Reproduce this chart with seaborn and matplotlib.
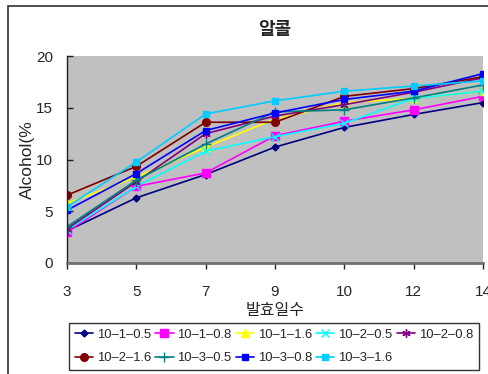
import matplotlib
matplotlib.use("Agg")
import matplotlib.pyplot as plt
import seaborn as sns
import pandas as pd
from matplotlib.patches import Rectangle

days = ["3", "5", "7", "9", "10", "12", "14"]
series_names = ["10–1–0.5", "10–1–0.8", "10–1–1.6", "10–2–0.5", "10–2–0.8",
                "10–2–1.6", "10–3–0.5", "10–3–0.8", "10–3–1.6"]
s_10_1_05 = [3.1, 6.3, 8.55, 11.2, 13.1, 14.35, 15.5]
s_10_1_08 = [3.0, 7.4, 8.7, 12.3, 13.7, 14.8, 16.1]
s_10_1_16 = [5.75, 8.3, 11.2, 13.9, 15.5, 15.9, 16.6]
s_10_2_05 = [3.2, 7.4, 10.8, 12.2, 13.5, 15.9, 16.6]
s_10_2_08 = [3.3, 7.85, 12.5, 14.2, 15.3, 16.5, 17.9]
s_10_2_16 = [6.55, 9.34, 13.6, 13.6, 16.1, 16.85, 18.0]
s_10_3_05 = [3.5, 8.0, 11.5, 14.6, 14.8, 15.95, 17.2]
s_10_3_08 = [5.1, 8.64, 12.8, 14.5, 15.8, 16.6, 18.3]
s_10_3_16 = [5.42, 9.76, 14.4, 15.67, 16.6, 17.1, 17.6]
values = [s_10_1_05, s_10_1_08, s_10_1_16, s_10_2_05, s_10_2_08,
          s_10_2_16, s_10_3_05, s_10_3_08, s_10_3_16]

colors = ["#000080", "#FF00FF", "#FFFF00", "#00FFFF", "#800080",
          "#800000", "#008080", "#0000FF", "#00CCFF"]
markers = ["D", "s", "^", "x", (6, 2, 0), "o", "+", "s", "s"]
msizes = [3.5, 5.5, 5.5, 5.5, 6, 5.5, 7, 4, 4]

rows = []
for name, vals in zip(series_names, values):
    for d, v in zip(days, vals):
        rows.append({"day": d, "val": v, "series": name})
df = pd.DataFrame(rows)

sns.set_style("white")
plt.rcParams["font.family"] = ["Liberation Sans", "Noto Sans CJK KR"]

fig = plt.figure(figsize=(4.88, 3.74), dpi=100)
W, H = 488, 374
ax = fig.add_axes([67 / W, 1 - 263 / H, (483 - 67) / W, (263 - 56) / H])
ax.set_facecolor("#C0C0C0")

for i, name in enumerate(series_names):
    sub = df[df["series"] == name]
    sns.lineplot(data=sub, x="day", y="val", color=colors[i], marker=markers[i],
                 markersize=msizes[i], linewidth=1.2, ax=ax, legend=False,
                 markeredgecolor=colors[i], markerfacecolor=colors[i],
                 markeredgewidth=1.0, label=name)

ax.set_xlim(0, len(days) - 1)
ax.set_ylim(0, 20)
ax.set_yticks([0, 5, 10, 15, 20])
ax.set_xlabel("발효일수", fontsize=11.5, labelpad=3)
ax.set_ylabel("Alcohol(%", fontsize=12.5, labelpad=1)
ax.set_title("알콜", fontsize=13, fontweight="bold", pad=15)

for s in ["top", "right"]:
    ax.spines[s].set_visible(False)
ax.spines["left"].set_color("#202020")
ax.spines["left"].set_linewidth(1.0)
ax.spines["bottom"].set_color("#707070")
ax.spines["bottom"].set_linewidth(2.0)
ax.tick_params(axis="y", direction="in", length=4, width=1, color="#202020",
               pad=10, labelsize=11, left=True)
ax.tick_params(axis="x", direction="out", length=4, width=1, color="#202020",
               pad=12, labelsize=11, bottom=True)

lines = ax.get_lines()[:len(series_names)]
order = [0, 5, 1, 6, 2, 7, 3, 8, 4]
leg = fig.legend(handles=[lines[k] for k in order],
                 labels=[series_names[k] for k in order], ncol=5,
                 loc="upper left", bbox_to_anchor=(69 / W, 1 - 323 / H),
                 frameon=True, fancybox=False, edgecolor="black",
                 fontsize=9.4, handlelength=1.4, handletextpad=0.3,
                 columnspacing=0.3, labelspacing=0.85, borderpad=0.45,
                 borderaxespad=0)
leg.get_frame().set_linewidth(1.0)

fig.patches.append(Rectangle((8 / W, -0.1), 1.2, 1.1 - 6 / H, transform=fig.transFigure,
                             fill=False, edgecolor="#303030", linewidth=1.2))

fig.savefig("out.png", dpi=100)
